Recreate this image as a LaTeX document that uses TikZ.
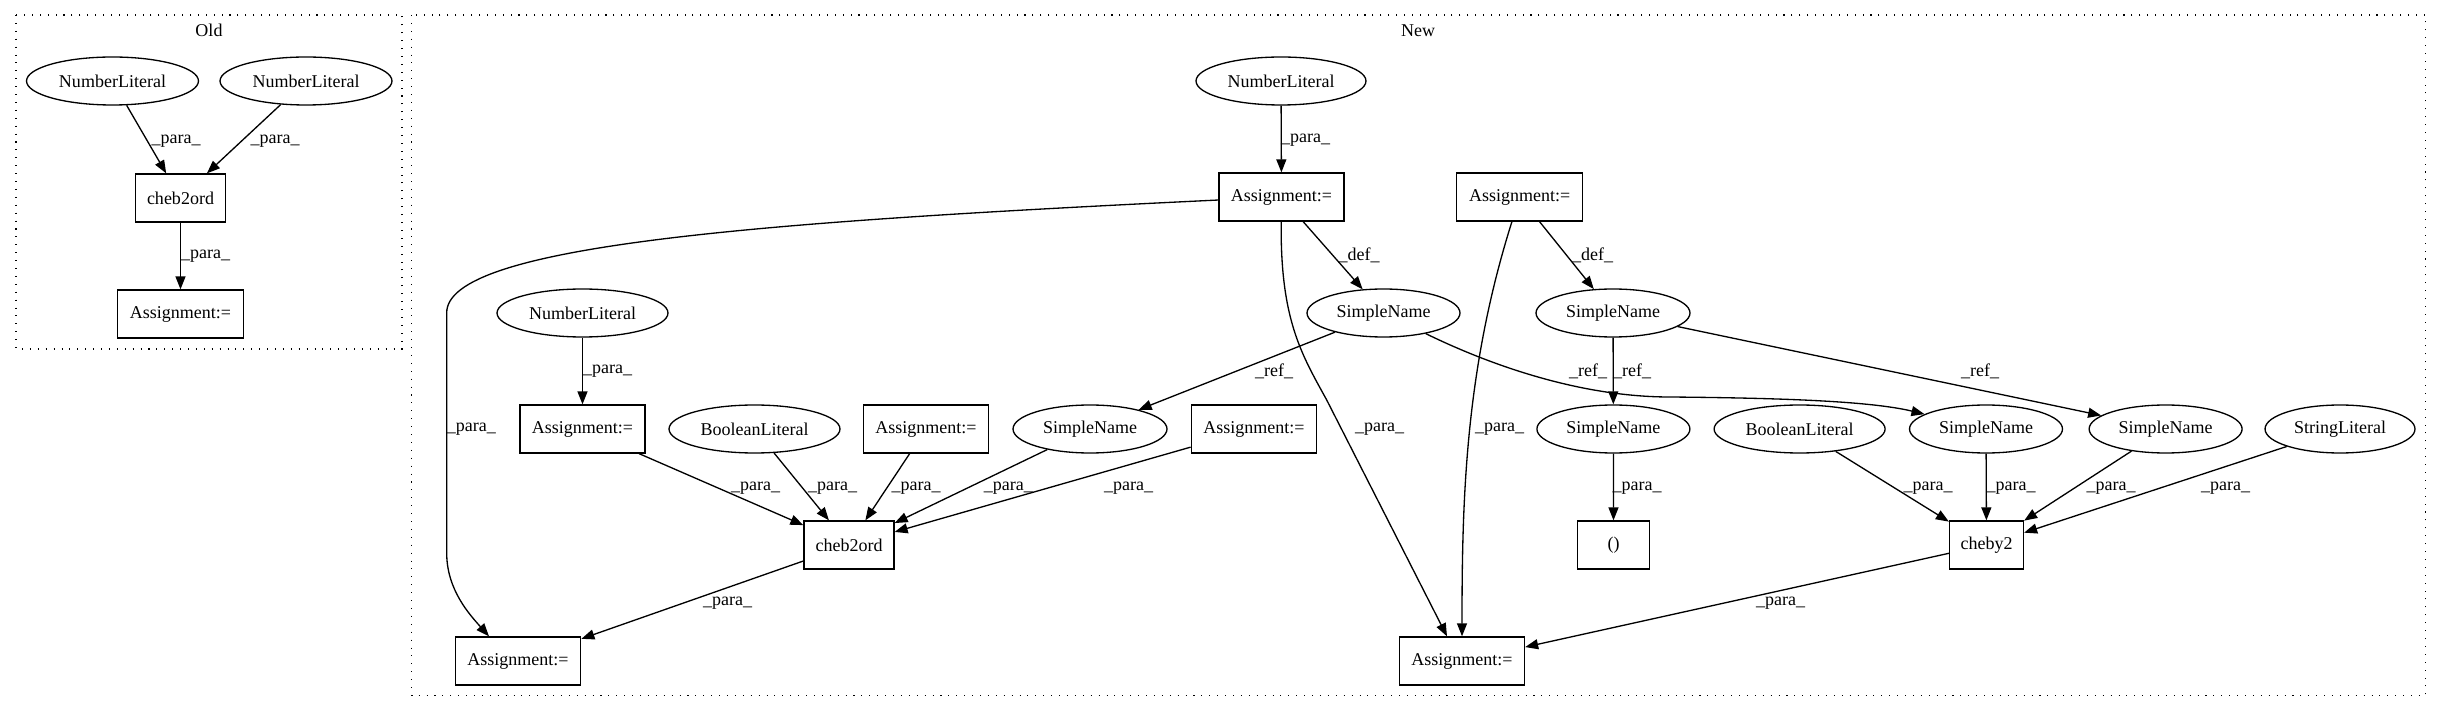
\documentclass[tikz,border=0pt]{standalone}
\usepackage{fontspec}
\setmainfont{Liberation Serif}
\usetikzlibrary{shapes.geometric,arrows.meta}
\begin{document}
\begin{tikzpicture}[x=0.02cm,y=-0.02cm,line width=0.75pt,
  every node/.style={font=\fontsize{10.25}{12}\selectfont},
  oval/.style={draw, ellipse, inner sep=0pt, minimum height=0.96cm, minimum width=#1},
  box/.style={draw, rectangle, inner sep=0pt, minimum height=0.96cm, minimum width=#1},
  arr/.style={-{Triangle[length=0.26cm,width=0.2cm]}},
  lbl/.style={inner sep=0pt},
  cluster/.style={line width=0.6pt, dash pattern=on 0.6pt off 3.9pt}]
\useasboundingbox (0,0) rectangle (2443,712);
\draw[cluster] (16,15) rectangle (402,349);
\node (oldTitle) at (209,30) {Old};
\draw[cluster] (411.5,15) rectangle (2425.5,695.7);
\node (newTitle) at (1418,30.7) {New};
\node[oval=3.44cm] (oldNumA) at (112.5,81) {NumberLiteral};
\node[oval=3.44cm] (oldNumB) at (306,81) {NumberLiteral};
\node[box=1.8cm] (oldCheb) at (180.5,198) {cheb2ord};
\node[box=2.52cm] (oldAssign) at (180.5,314) {Assignment:=};
\draw[arr] (oldNumA) -- (oldCheb);
\node[lbl] (lOldA) at (176,141) {\_para\_};
\draw[arr] (oldNumB) -- (oldCheb);
\node[lbl] (lOldB) at (275,141) {\_para\_};
\draw[arr] (oldCheb) -- (oldAssign);
\node[lbl] (lOldC) at (205.5,256) {\_para\_};
\node[oval=3.4cm] (numTop) at (1281,81) {NumberLiteral};
\node[box=2.5cm] (assignTop) at (1281.5,197) {Assignment:=};
\node[oval=3.06cm] (simpleA) at (1383.5,313) {SimpleName};
\node[box=2.52cm] (assignRight) at (1519.7,197) {Assignment:=};
\node[oval=3.08cm] (simpleB) at (1613,313) {SimpleName};
\node[oval=3.42cm] (numLeft) at (582.5,313) {NumberLiteral};
\node[box=2.5cm] (assignLeft) at (582.5,429) {Assignment:=};
\node[oval=3.42cm] (boolA) at (754.5,429) {BooleanLiteral};
\node[box=2.5cm] (assignMid) at (926,429) {Assignment:=};
\node[oval=3.08cm] (simpleC) at (1090,429) {SimpleName};
\node[box=2.51cm] (assignMidR) at (1254,429) {Assignment:=};
\node[box=1.8cm] (cheb) at (849,545) {cheb2ord};
\node[box=2.51cm] (assignBotL) at (518,661) {Assignment:=};
\node[oval=3.06cm] (simpleD) at (1613.4,429) {SimpleName};
\node[box=1.45cm] (paren) at (1613.5,545) {()};
\node[oval=3.42cm] (boolB) at (1799.6,429) {BooleanLiteral};
\node[oval=3.06cm] (simpleE) at (1986,429) {SimpleName};
\node[oval=3.06cm] (simpleF) at (2165.6,429) {SimpleName};
\node[oval=3.0cm] (strLit) at (2340,429) {StringLiteral};
\node[box=1.48cm] (cheby) at (1986.5,545) {cheby2};
\node[box=2.5cm] (assignBotR) at (1462,661) {Assignment:=};
\draw[arr] (numTop) -- (assignTop);
\node[lbl] (lNumTop) at (1305.5,140) {\_para\_};
\draw[arr] (assignTop) -- (simpleA);
\node[lbl] (lDefA) at (1359,255) {\_def\_};
\draw[arr] (assignRight) -- (simpleB);
\node[lbl] (lDefB) at (1592.6,255) {\_def\_};
\draw[arr] (numLeft) -- (assignLeft);
\node[lbl] (lNumLeft) at (607.5,371) {\_para\_};
\draw[arr] (simpleA) -- (simpleC);
\node[lbl] (lRefA) at (1274,371) {\_ref\_};
\draw[arr] (simpleA) .. controls (1490,365) and (1580,397) .. (1670,397)
  .. controls (1780,398) and (1870,401) .. (simpleE);
\node[lbl] (lRefB) at (1588,371) {\_ref\_};
\draw[arr] (simpleB) -- (simpleD);
\node[lbl] (lRefC) at (1632,371) {\_ref\_};
\draw[arr] (simpleB) -- (simpleF);
\node[lbl] (lRefD) at (1980,371) {\_ref\_};
\draw[arr] (assignTop) .. controls (760,222) and (446,245) .. (446.7,313)
  -- (446.7,553) .. controls (446.7,590) and (470,615) .. ([xshift=-0.58cm]assignBotL.north);
\node[lbl] (lLongA) at (471.3,429) {\_para\_};
\draw[arr] (assignTop) .. controls (1280,320) and (1302,355) .. (1326.7,400)
  -- ([xshift=-0.3cm]assignBotR.north);
\node[lbl] (lLongB) at (1379.5,429) {\_para\_};
\draw[arr] (assignRight) .. controls (1465,370) and (1462,500) .. (assignBotR);
\node[lbl] (lLongC) at (1499.5,429) {\_para\_};
\draw[arr] (assignLeft) -- (cheb);
\node[lbl] (lChebA) at (755.5,488) {\_para\_};
\draw[arr] (boolA) -- (cheb);
\node[lbl] (lChebB) at (832.5,488) {\_para\_};
\draw[arr] (assignMid) -- (cheb);
\node[lbl] (lChebC) at (916,488) {\_para\_};
\draw[arr] (simpleC) -- (cheb);
\node[lbl] (lChebD) at (1008.4,488) {\_para\_};
\draw[arr] (assignMidR) -- (cheb);
\node[lbl] (lChebE) at (1128.6,488) {\_para\_};
\draw[arr] (cheb) -- (assignBotL);
\node[lbl] (lChebOut) at (727.5,603.3) {\_para\_};
\draw[arr] (simpleD) -- (paren);
\node[lbl] (lParen) at (1637,488) {\_para\_};
\draw[arr] (boolB) -- (cheby);
\node[lbl] (lChebyA) at (1928,488) {\_para\_};
\draw[arr] (simpleE) -- (cheby);
\node[lbl] (lChebyB) at (2011,488) {\_para\_};
\draw[arr] (simpleF) -- (cheby);
\node[lbl] (lChebyC) at (2111,488) {\_para\_};
\draw[arr] (strLit) -- (cheby);
\node[lbl] (lChebyD) at (2225.5,488) {\_para\_};
\draw[arr] (cheby) -- (assignBotR);
\node[lbl] (lChebyOut) at (1780.5,603.3) {\_para\_};
\end{tikzpicture}
\end{document}
